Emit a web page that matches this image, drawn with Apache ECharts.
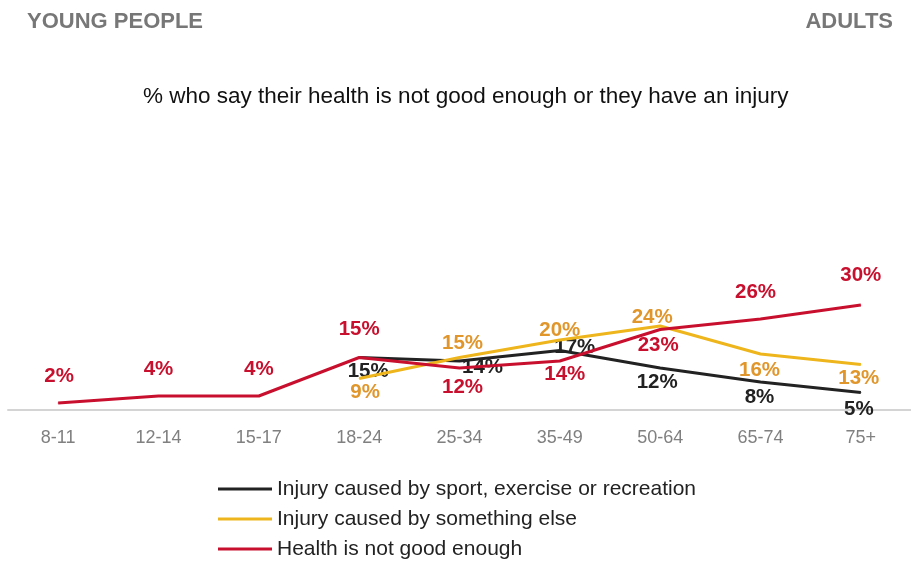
<!DOCTYPE html>
<html>
<head>
<meta charset="utf-8">
<script src="https://cdn.jsdelivr.net/npm/echarts@6/dist/echarts.min.js"></script>
<style>
  html, body { margin: 0; padding: 0; background: #fff; }
  #chart { width: 911px; height: 561px; }
</style>
</head>
<body>
<div id="chart"></div>
<script>
// age groups
const categories = ["8-11", "12-14", "15-17", "18-24", "25-34", "35-49", "50-64", "65-74", "75+"];

// % values per series (null = not asked)
const sportInjury = [null, null, null, 15, 14, 17, 12, 8, 5];
const otherInjury = [null, null, null, 9, 15, 20, 24, 16, 13];
const healthNotGood = [2, 4, 4, 15, 12, 14, 23, 26, 30];

const seriesNames = [
  "Injury caused by sport, exercise or recreation",
  "Injury caused by something else",
  "Health is not good enough"
];

// label nudges [dx, dy] from each point
const sportOffsets = [null, null, null, [9, 14], [23, 6], [15, -3], [-3, 14], [-1, 15], [-2, 17]];
const otherOffsets = [null, null, null, [6, 14], [3, -14], [0, -10], [-8, -9], [-1, 16], [-2, 14]];
const healthOffsets = [[1, -27], [0, -27], [0, -27], [0, -28], [3, 19], [5, 13], [-2, 16], [-5, -27], [0, -30]];

const chart = echarts.init(document.getElementById("chart"));

function buildSeries(name, values, offsets, lineColor, labelColor, z) {
  return {
    name: name,
    type: "line",
    z: z,
    data: values.map(function (v, i) {
      if (v === null) return null;
      return {
        value: v,
        label: { offset: offsets[i] }
      };
    }),
    symbol: "circle",
    symbolSize: 1,
    lineStyle: { color: lineColor, width: 3 },
    itemStyle: { color: lineColor },
    label: {
      show: true,
      position: "inside",
      formatter: "{c}%",
      color: labelColor,
      fontFamily: "Liberation Sans",
      fontWeight: "bold",
      fontSize: 20.5
    },
    emphasis: { disabled: true },
    animation: false
  };
}

chart.setOption({
  animation: false,
  textStyle: { fontFamily: "Liberation Sans" },
  graphic: [
    {
      type: "text", left: 27, top: 11,
      style: { text: "YOUNG PEOPLE", fill: "#777", font: "bold 22px Liberation Sans" }
    },
    {
      type: "text", right: 18, top: 11,
      style: { text: "ADULTS", fill: "#777", font: "bold 22px Liberation Sans" }
    },
    {
      type: "text", left: 143, top: 85,
      style: { text: "% who say their health is not good enough or they have an injury", fill: "#111", font: "22.5px Liberation Sans" }
    }
  ],
  legend: {
    orient: "vertical",
    left: 218,
    top: 478,
    height: 83,
    padding: 0,
    icon: "rect",
    itemWidth: 54,
    itemHeight: 3,
    itemGap: 8,
    data: seriesNames,
    textStyle: { fontSize: 21, color: "#222", lineHeight: 22 },
    selectedMode: false
  },
  grid: { left: 8, right: 0, top: 235, bottom: 151 },
  xAxis: {
    type: "category",
    data: categories,
    boundaryGap: true,
    axisLine: { lineStyle: { color: "#d4d4d4", width: 2 } },
    axisTick: { show: false },
    axisLabel: { color: "#808080", fontSize: 18, margin: 19 }
  },
  yAxis: {
    type: "value",
    min: 0,
    max: 50,
    show: false
  },
  series: [
    buildSeries(seriesNames[0], sportInjury, sportOffsets, "#222222", "#222222", 2),
    buildSeries(seriesNames[1], otherInjury, otherOffsets, "#eeb61c", "#e0962b", 3),
    buildSeries(seriesNames[2], healthNotGood, healthOffsets, "#c8102e", "#c8102e", 4)
  ]
});
</script>
</body>
</html>
